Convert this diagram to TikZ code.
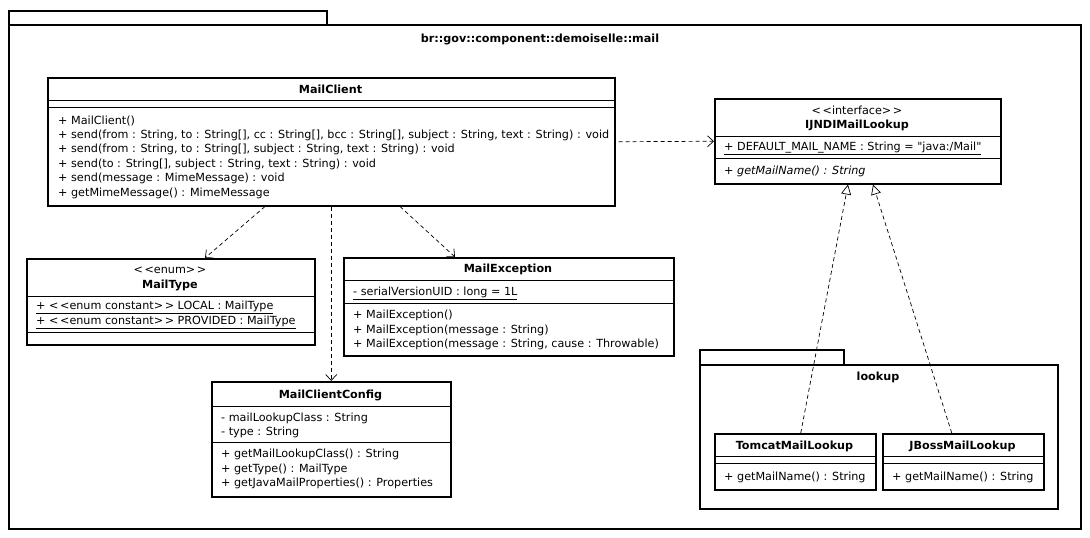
\documentclass[tikz,border=0pt]{standalone}
\usepackage{fontspec}
\newfontfamily\umlfont{DejaVu Sans}
\usetikzlibrary{arrows.meta,calc}
\newcommand\lguil{<\kern1.6pt<}
\newcommand\rguil{>\kern1.6pt>}
\begin{document}
\begin{tikzpicture}[x=1pt,y=-1pt,
  font=\umlfont\fontsize{11.2}{13}\selectfont,
  box/.style={draw, line width=1.5pt, inner sep=0pt, anchor=north west},
  sepline/.style={line width=0.8pt},
  txt/.style={anchor=west, inner sep=0pt, yshift=-1pt},
  ttl/.style={inner sep=0pt, yshift=-1pt, font=\umlfont\fontsize{11.2}{13}\selectfont\bfseries},
  stereo/.style={inner sep=0pt, yshift=-1pt},
  dep/.style={line width=0.7pt, dash pattern=on 4pt off 3pt,
    -{Straight Barb[length=6pt,width=11pt,line width=0.7pt]}},
  real/.style={line width=0.7pt, dash pattern=on 4pt off 3pt,
    -{Triangle[open,length=10pt,width=10pt,line width=0.7pt,fill=white]}}]
\useasboundingbox (0,0) rectangle (1090,538);

% outer package
\node[box, minimum width=318pt, minimum height=14pt] (pkgtab) at (8,10) {};
\node[box, minimum width=1072pt, minimum height=504pt] (pkg) at (8,24) {};
\node[ttl] (pkgname) at (540,38) {br::gov::component::demoiselle::mail};

% MailClient
\node[box, minimum width=567pt, minimum height=128pt] (mc) at (47,77) {};
\node[ttl] (mct) at (330.5,88.5) {MailClient};
\draw[sepline] (mc.west |- 0,100) -- (mc.east |- 0,100);
\draw[sepline] (mc.west |- 0,107) -- (mc.east |- 0,107);
\node[txt] (mcm1) at (58,119.5) {+ MailClient()};
\node[txt] (mcm2) at (58,134) {+ send(from : String, to : String[], cc : String[], bcc : String[], subject : String, text : String) : void};
\node[txt] (mcm3) at (58,148.5) {+ send(from : String, to : String[], subject : String, text : String) : void};
\node[txt] (mcm4) at (58,163) {+ send(to : String[], subject : String, text : String) : void};
\node[txt] (mcm5) at (58,177.5) {+ send(message : MimeMessage) : void};
\node[txt] (mcm6) at (58,192) {+ getMimeMessage() : MimeMessage};

% IJNDIMailLookup
\node[box, minimum width=286pt, minimum height=85pt] (ij) at (714,98) {};
\node[stereo] (ijs) at (857,109.5) {\lguil interface\rguil};
\node[ttl] (ijt) at (857,124.5) {IJNDIMailLookup};
\draw[sepline] (ij.west |- 0,136) -- (ij.east |- 0,136);
\node[txt] (ija) at (724,147.5) {\underline{+ DEFAULT\_MAIL\_NAME : String = "java:/Mail"}};
\draw[sepline] (ij.west |- 0,158) -- (ij.east |- 0,158);
\node[txt] (ijm) at (724,170) {\itshape + getMailName() : String};

% MailType
\node[box, minimum width=288pt, minimum height=86pt] (mt) at (26,258) {};
\node[stereo] (mts) at (170,269.5) {\lguil enum\rguil};
\node[ttl] (mtt) at (170,284.5) {MailType};
\draw[sepline] (mt.west |- 0,296) -- (mt.east |- 0,296);
\node[txt] (mta1) at (36,306.5) {\underline{+ \lguil enum constant\rguil\ LOCAL : MailType}};
\node[txt] (mta2) at (36,321.5) {\underline{+ \lguil enum constant\rguil\ PROVIDED : MailType}};
\draw[sepline] (mt.west |- 0,332) -- (mt.east |- 0,332);

% MailException
\node[box, minimum width=330pt, minimum height=98pt] (me) at (343,257) {};
\node[ttl] (met) at (508,268.5) {MailException};
\draw[sepline] (me.west |- 0,280) -- (me.east |- 0,280);
\node[txt] (mea) at (353,292) {\underline{- serialVersionUID : long = 1L}};
\draw[sepline] (me.west |- 0,303) -- (me.east |- 0,303);
\node[txt] (mem1) at (353,314.5) {+ MailException()};
\node[txt] (mem2) at (353,329) {+ MailException(message : String)};
\node[txt] (mem3) at (353,343.5) {+ MailException(message : String, cause : Throwable)};

% MailClientConfig
\node[box, minimum width=239pt, minimum height=115pt] (mcc) at (211,381) {};
\node[ttl] (mcct) at (330.5,394) {MailClientConfig};
\draw[sepline] (mcc.west |- 0,406) -- (mcc.east |- 0,406);
\node[txt] (mcca1) at (221,417) {- mailLookupClass : String};
\node[txt] (mcca2) at (221,431.5) {- type : String};
\draw[sepline] (mcc.west |- 0,442) -- (mcc.east |- 0,442);
\node[txt] (mccm1) at (221,453.5) {+ getMailLookupClass() : String};
\node[txt] (mccm2) at (221,468) {+ getType() : MailType};
\node[txt] (mccm3) at (221,482.5) {+ getJavaMailProperties() : Properties};

% lookup package
\node[box, minimum width=144pt, minimum height=15pt] (lktab) at (699,349) {};
\node[box, minimum width=358pt, minimum height=144pt] (lk) at (699,364) {};
\node[ttl] (lkname) at (878,376) {lookup};

% TomcatMailLookup
\node[box, minimum width=161pt, minimum height=56pt] (tml) at (714,433) {};
\node[ttl] (tmlt) at (794.5,445) {TomcatMailLookup};
\draw[sepline] (tml.west |- 0,456) -- (tml.east |- 0,456);
\draw[sepline] (tml.west |- 0,463) -- (tml.east |- 0,463);
\node[txt] (tmlm) at (724,476) {+ getMailName() : String};

% JBossMailLookup
\node[box, minimum width=161pt, minimum height=56pt] (jml) at (882,433) {};
\node[ttl] (jmlt) at (962.5,445) {JBossMailLookup};
\draw[sepline] (jml.west |- 0,456) -- (jml.east |- 0,456);
\draw[sepline] (jml.west |- 0,463) -- (jml.east |- 0,463);
\node[txt] (jmlm) at (892,476) {+ getMailName() : String};

% dependencies
\draw[dep, shorten <=3pt] (mc.east) -- (ij.west);
\draw[dep] ($(mc.south west)+(218,0)$) -- ($(mt.north west)+(179,0)$);
\draw[dep] (mc.south) -- (mcc.north);
\draw[dep] ($(mc.south west)+(353,0)$) -- ($(me.north west)+(112,0)$);

% realizations
\draw[real] ($(tml.north)+(5.5,0)$) -- ($(ij.south west)+(134,0)$);
\draw[real] ($(jml.north)+(-11.5,0)$) -- ($(ij.south west)+(159,0)$);
\end{tikzpicture}
\end{document}
